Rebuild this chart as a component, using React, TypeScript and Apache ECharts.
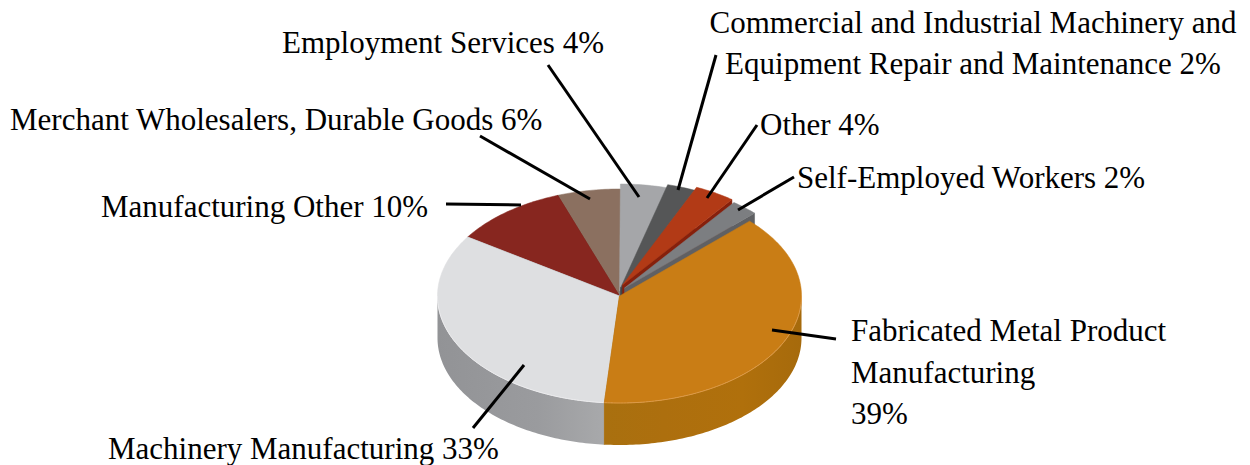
import React, { useEffect, useRef } from "react";
import * as echarts from "echarts";

const categories = [
  "Fabricated Metal Product Manufacturing",
  "Machinery Manufacturing",
  "Manufacturing Other",
  "Merchant Wholesalers, Durable Goods",
  "Employment Services",
  "Commercial and Industrial Machinery and Equipment Repair and Maintenance",
  "Other",
  "Self-Employed Workers",
];
const shownPercent = [39, 33, 10, 6, 4, 2, 4, 2];
const sliceValues = [38.7, 33.0, 10.2, 5.6, 4.1, 2.5, 3.6, 2.4];

const topColors = ["#c97d15", "#dedfe1", "#87261f", "#8b7060", "#a5a6a9", "#555657", "#b23a16", "#7c7e81"];
const wallColors = ["#a96c0e", "#9a9b9e", "#6c1e18", "#6f5a4d", "#808184", "#424344", "#86200c", "#5f6063"];
const explode = [
  [0, 0], [0, 0], [0, 0], [0, 0],
  [0, -5], [1, -8], [3, -11], [5, -8],
];
const drawOrder = [3, 2, 4, 5, 6, 7, 1, 0];

const START_DEG = 45.6;
const CX = 619.5, CY = 296, RX = 182, RY = 107, DEPTH = 42;
const FONT = "Liberation Serif";
const FONT_SIZE = 31;

const labelLayout = [
  { i: 0, text: `Fabricated Metal Product\nManufacturing\n${shownPercent[0]}%`, x: 851, y: 372, align: "left" },
  { i: 1, text: `Machinery Manufacturing ${shownPercent[1]}%`, x: 108, y: 448, align: "left" },
  { i: 2, text: `Manufacturing Other ${shownPercent[2]}%`, x: 101, y: 206, align: "left" },
  { i: 3, text: `Merchant Wholesalers, Durable Goods ${shownPercent[3]}%`, x: 10, y: 119, align: "left" },
  { i: 4, text: `Employment Services ${shownPercent[4]}%`, x: 282, y: 42, align: "left" },
  { i: 5, text: `Commercial and Industrial Machinery and\nEquipment Repair and Maintenance ${shownPercent[5]}%`, x: 973, y: 43, align: "center" },
  { i: 6, text: `Other ${shownPercent[6]}%`, x: 760, y: 124, align: "left" },
  { i: 7, text: `Self-Employed Workers ${shownPercent[7]}%`, x: 797, y: 177, align: "left" },
];
const leaderLines = [
  [772, 330, 836, 339],
  [524, 365, 473, 428],
  [446, 204, 521, 205],
  [480, 136, 590, 199],
  [548, 65, 639, 197],
  [716, 55, 678, 190],
  [757, 125, 707, 198],
  [794, 177, 738, 210],
];

const rad = (d: number) => (d * Math.PI) / 180;

function renderSlice(params: any, api: any) {
  const idx = params.dataIndex;
  const total = sliceValues.reduce((a, b) => a + b, 0);
  let before = 0;
  for (let k = 0; k < idx; k++) before += sliceValues[k];
  const a0 = START_DEG + (before / total) * 360;
  const a1 = a0 + (api.value(0) / total) * 360;
  const [ox, oy] = explode[idx];
  const pt = (a: number, dz = 0) => [
    CX + ox + RX * Math.sin(rad(a)),
    CY + oy - RY * Math.cos(rad(a)) + dz,
  ];
  const apex = [CX + ox, CY + oy];
  const arc: number[][] = [];
  const steps = Math.max(4, Math.ceil(a1 - a0));
  for (let s = 0; s <= steps; s++) arc.push(pt(a0 + ((a1 - a0) * s) / steps));
  const order = drawOrder.indexOf(idx);
  const children: any[] = [];

  children.push({
    type: "polygon",
    z2: order * 10,
    shape: { points: [apex, pt(a1), pt(a1, DEPTH), [apex[0], apex[1] + DEPTH]] },
    style: { fill: wallColors[idx], stroke: wallColors[idx], lineWidth: 0.5 },
  });
  const f0 = Math.max(a0, 90), f1 = Math.min(a1, 270);
  if (f1 > f0) {
    const upper: number[][] = [], lower: number[][] = [];
    const n = Math.ceil(f1 - f0);
    for (let s = 0; s <= n; s++) {
      const a = f0 + ((f1 - f0) * s) / n;
      upper.push(pt(a));
      lower.unshift(pt(a, DEPTH));
    }
    const fill = idx === 0
      ? { type: "linear", x: 0, y: 0, x2: 1, y2: 0, colorStops: [
          { offset: 0, color: "#a9700f" }, { offset: 0.3, color: "#ad6f0e" },
          { offset: 0.7, color: "#b0700c" }, { offset: 1, color: "#a66a0c" } ] }
      : { type: "linear", x: 0, y: 0, x2: 1, y2: 0, colorStops: [
          { offset: 0, color: "#929396" }, { offset: 0.6, color: "#9a9b9e" },
          { offset: 1, color: "#a8a9ab" } ] };
    children.push({
      type: "polygon",
      z2: order * 10 + 1,
      shape: { points: upper.concat(lower) },
      style: { fill },
    });
    children.push({
      type: "polyline",
      z2: order * 10 + 3,
      shape: { points: upper },
      style: { fill: "none", stroke: idx === 0 ? "#dc9a48" : "#ececee", lineWidth: 1 },
    });
  }
  children.push({
    type: "polygon",
    z2: order * 10 + 2,
    shape: { points: [apex, ...arc] },
    style: { fill: topColors[idx], stroke: topColors[idx], lineWidth: 0.5 },
  });
  return { type: "group", children };
}

export default function App() {
  const ref = useRef<HTMLDivElement>(null);
  useEffect(() => {
    const chart = echarts.init(ref.current!, undefined, { renderer: "svg" });
    const graphics: any[] = [];
    leaderLines.forEach(([x1, y1, x2, y2]) => {
      graphics.push({
        type: "line",
        z: 100,
        shape: { x1, y1, x2, y2 },
        style: { stroke: "#000", lineWidth: 3 },
      });
    });
    labelLayout.forEach((l) => {
      graphics.push({
        type: "text",
        z: 100,
        x: l.x,
        y: l.y,
        style: {
          text: l.text,
          fill: "#000",
          fontFamily: FONT,
          fontSize: FONT_SIZE,
          lineHeight: 41.5,
          align: l.align,
          verticalAlign: "middle",
        },
      });
    });
    chart.setOption({
      animation: false,
      backgroundColor: "#fff",
      series: [
        {
          type: "custom",
          coordinateSystem: "none",
          name: "Share",
          data: sliceValues.map((v, i) => ({ name: categories[i], value: v })),
          renderItem: renderSlice,
          silent: true,
        },
      ],
      graphic: graphics,
    });
    return () => chart.dispose();
  }, []);
  return <div ref={ref} style={{ position: "fixed", left: 0, top: 0, width: 1250, height: 465 }} />;
}
